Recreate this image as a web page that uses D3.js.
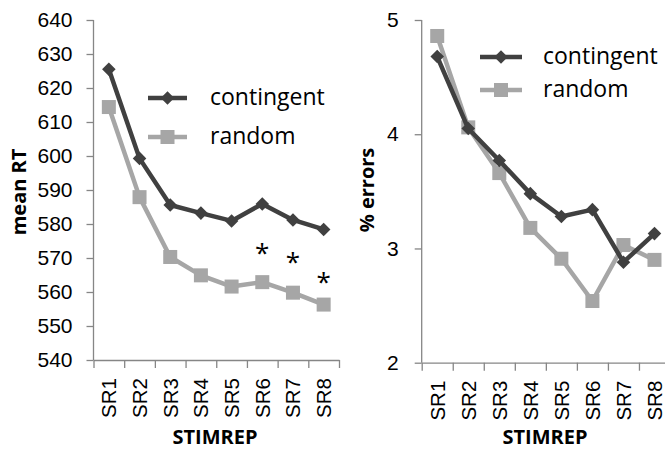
<!DOCTYPE html>
<html>
<head>
<meta charset="utf-8">
<script src="https://cdn.jsdelivr.net/npm/d3@7"></script>
<style>
  body { margin: 0; background: #fff; }
  svg { display: block; font-family: "Open Sans", sans-serif; }
  .axis path, .axis line { stroke: #868686; stroke-width: 1.3px; }
  .axis text { fill: #000; font-size: 21px; }
  .axisTitle { font-weight: bold; font-size: 20px; fill: #000; }
  .legendText { font-size: 23px; fill: #000; }
</style>
</head>
<body>
<div id="chart"></div>
<script>
// data
var categories = ["SR1", "SR2", "SR3", "SR4", "SR5", "SR6", "SR7", "SR8"];
var rtContingent = [625.5, 599.3, 585.6, 583.2, 580.9, 585.9, 581.2, 578.4];
var rtRandom = [614.4, 587.9, 570.3, 564.9, 561.6, 562.9, 559.8, 556.3];
var errContingent = [4.68, 4.05, 3.77, 3.48, 3.28, 3.34, 2.88, 3.13];
var errRandom = [4.86, 4.06, 3.66, 3.18, 2.91, 2.54, 3.03, 2.90];
var rtTicks = [540, 550, 560, 570, 580, 590, 600, 610, 620, 630, 640];
var errTicks = [2, 3, 4, 5];
var sigCats = ["SR6", "SR7", "SR8"];
var sigValues = [572.6, 569.9, 564.0];
var seriesNames = ["contingent", "random"];

var darkColor = "#404040";
var lightColor = "#a6a6a6";

var svgWidth = 665;
var svgHeight = 450;

var svg = d3.select("#chart")
    .append("svg")
    .attr("width", svgWidth)
    .attr("height", svgHeight);

function drawPanel(opts) {
    var g = svg.append("g");

    var x = d3.scaleBand()
        .domain(categories)
        .range([opts.left, opts.right]);
    var xEdges = d3.scaleLinear()
        .domain([0, categories.length])
        .range([opts.left, opts.right]);
    var y = d3.scaleLinear()
        .domain(opts.domain)
        .range([opts.bottom, opts.top]);

    // y axis
    g.append("g")
        .attr("class", "axis")
        .attr("transform", `translate(${opts.left},0)`)
        .call(d3.axisLeft(y).tickValues(opts.ticks).tickFormat(d3.format("d"))
            .tickSize(7).tickSizeOuter(0).tickPadding(opts.labelGap))
        .call(a => a.select(".domain").attr("d", `M0,${opts.bottom}V${opts.top}`));

    // x axis: tick marks at category edges
    g.append("g")
        .attr("class", "axis")
        .attr("transform", `translate(0,${opts.bottom})`)
        .call(d3.axisBottom(xEdges).tickValues(d3.range(0, categories.length + 1)).tickFormat("").tickSize(8).tickSizeOuter(0));

    // x category labels
    g.append("g")
        .attr("class", "axis")
        .attr("transform", `translate(0,${opts.bottom})`)
        .call(d3.axisBottom(x).tickSize(0))
        .call(a => a.select(".domain").remove())
        .selectAll("text")
        .attr("transform", "rotate(-90)")
        .attr("x", -18)
        .attr("y", 0)
        .attr("dy", "0.36em")
        .style("font-size", "20.5px")
        .style("text-anchor", "end");

    // axis titles
    g.append("text")
        .attr("class", "axisTitle")
        .attr("transform", `translate(${opts.yTitleX},${opts.yTitleY}) rotate(-90)`)
        .attr("text-anchor", "middle")
        .attr("dy", "0.35em")
        .text(opts.yTitle);
    g.append("text")
        .attr("class", "axisTitle")
        .attr("x", opts.xTitleX)
        .attr("y", 437)
        .attr("text-anchor", "middle")
        .attr("dy", "0.35em")
        .text("STIMREP");

    var line = d3.line()
        .x((d, i) => x(categories[i]) + x.bandwidth() / 2)
        .y(d => y(d));

    var series = [
        { name: seriesNames[0], values: opts.contingent, color: darkColor, marker: "diamond" },
        { name: seriesNames[1], values: opts.random, color: lightColor, marker: "square" }
    ];

    // draw random first so contingent sits on top
    [series[1], series[0]].forEach(function(s) {
        g.append("path")
            .datum(s.values)
            .attr("fill", "none")
            .attr("stroke", s.color)
            .attr("stroke-width", 4.5)
            .attr("stroke-linejoin", "round")
            .attr("d", line);
        drawMarkers(g, s, s.values.map((v, i) => [x(categories[i]) + x.bandwidth() / 2, y(v)]));
    });

    // legend
    series.forEach(function(s, i) {
        var ly = opts.legendY[i];
        g.append("line")
            .attr("x1", opts.legendX[0])
            .attr("x2", opts.legendX[1])
            .attr("y1", ly)
            .attr("y2", ly)
            .attr("stroke", s.color)
            .attr("stroke-width", 4.5);
        drawMarkers(g, s, [[(opts.legendX[0] + opts.legendX[1]) / 2, ly]]);
        g.append("text")
            .attr("class", "legendText")
            .attr("x", opts.legendTextX)
            .attr("y", ly)
            .attr("dy", "0.32em")
            .text(s.name);
    });

    return { x: x, y: y, g: g };
}

function drawMarkers(g, s, pts) {
    if (s.marker === "diamond") {
        g.selectAll(null)
            .data(pts)
            .enter()
            .append("rect")
            .attr("x", -4.8)
            .attr("y", -4.8)
            .attr("width", 9.6)
            .attr("height", 9.6)
            .attr("transform", d => `translate(${d[0]},${d[1]}) rotate(45)`)
            .attr("fill", s.color);
    } else {
        g.selectAll(null)
            .data(pts)
            .enter()
            .append("rect")
            .attr("x", d => d[0] - 7)
            .attr("y", d => d[1] - 7)
            .attr("width", 14)
            .attr("height", 14)
            .attr("fill", s.color);
    }
}

var left = drawPanel({
    left: 93.5, right: 339, top: 20, bottom: 360,
    domain: [540, 640], ticks: rtTicks, labelGap: 14,
    contingent: rtContingent, random: rtRandom,
    yTitle: "mean RT", yTitleX: 19, yTitleY: 192, xTitleX: 215,
    legendX: [148, 187], legendY: [98, 137], legendTextX: 210
});

drawPanel({
    left: 421.7, right: 670, top: 20, bottom: 362.7,
    domain: [2, 5], ticks: errTicks, labelGap: 16,
    contingent: errContingent, random: errRandom,
    yTitle: "% errors", yTitleX: 367, yTitleY: 190, xTitleX: 545,
    legendX: [480, 522], legendY: [57, 90], legendTextX: 543
});

// significance markers
left.g.selectAll(".sig")
    .data(sigCats)
    .enter()
    .append("text")
    .attr("class", "sig")
    .attr("x", d => left.x(d) + left.x.bandwidth() / 2)
    .attr("y", (d, i) => left.y(sigValues[i]))
    .attr("dy", "0.5em")
    .attr("text-anchor", "middle")
    .style("font-size", "26px")
    .text("*");
</script>
</body>
</html>
